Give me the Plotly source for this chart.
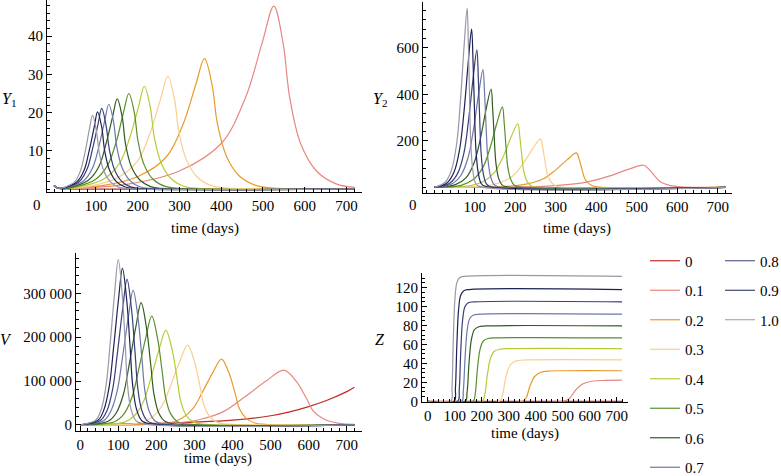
import plotly.graph_objects as go

LEVELS = ["0", "0.1", "0.2", "0.3", "0.4", "0.5", "0.6", "0.7", "0.8", "0.9", "1.0"]
COLORS = ["#c22b26", "#e8877e", "#e99a2c", "#f8cf8f", "#b5cc35", "#5a8f2e",
          "#2f5c20", "#6b78a8", "#393e76", "#1e2255", "#9a98a6"]

# ---- Y1 ----
Y1_T = [
    [0, 8, 30, 200, 400, 600, 720],
    [0, 8, 30, 180, 300, 400, 458, 498, 526, 548, 564, 590, 628, 675, 720],
    [0, 8, 30, 119, 202, 269, 309, 339, 360, 378, 391, 413, 444, 483, 525, 720],
    [0, 8, 30, 87, 151, 200, 230, 255, 272, 288, 299, 318, 345, 379, 416, 720],
    [0, 8, 30, 67, 119, 156, 181, 202, 216, 230, 240, 257, 281, 311, 344, 720],
    [0, 8, 30, 55, 98, 128, 149, 166, 179, 192, 201, 216, 238, 266, 296, 720],
    [0, 8, 30, 46, 82, 107, 124, 140, 151, 163, 171, 185, 206, 231, 258, 720],
    [0, 8, 25, 39, 71, 92, 107, 121, 131, 142, 150, 163, 182, 205, 231, 720],
    [0, 8, 20, 33, 61, 79, 92, 105, 114, 124, 132, 144, 161.5, 183, 207, 720],
    [0, 8, 18, 30, 55, 72, 84, 96, 104, 114, 121, 132.5, 149, 170, 193, 720],
    [0, 8, 16, 26, 49, 63, 74, 84, 92, 101, 108, 119, 135, 154, 176, 720],
]
Y1_V = [
    [1.0, 0.3, 0.1, 0.05, 0.05, 0.05, 0.05],
    [1.0, 0.35, 0.25, 1.43, 4.78, 11.95, 23.9, 38.2, 47.8, 38.2, 23.9, 11.95, 4.78, 1.43, 0.5],
    [1.0, 0.35, 0.25, 1.02, 3.41, 8.5, 17.05, 27.3, 34.1, 27.3, 17.05, 8.5, 3.41, 1.02, 0.34, 0.2],
    [1.0, 0.35, 0.25, 0.89, 2.95, 7.4, 14.75, 23.6, 29.5, 23.6, 14.75, 7.4, 2.95, 0.89, 0.3, 0.15],
    [1.0, 0.35, 0.25, 0.81, 2.69, 6.7, 13.45, 21.5, 26.9, 21.5, 13.45, 6.7, 2.69, 0.81, 0.27, 0.12],
    [1.0, 0.35, 0.25, 0.75, 2.5, 6.25, 12.5, 20.0, 25.0, 20.0, 12.5, 6.25, 2.5, 0.75, 0.25, 0.1],
    [1.0, 0.35, 0.25, 0.71, 2.36, 5.9, 11.8, 18.9, 23.6, 18.9, 11.8, 5.9, 2.36, 0.71, 0.24, 0.1],
    [1.0, 0.35, 0.25, 0.67, 2.22, 5.55, 11.1, 17.8, 22.2, 17.8, 11.1, 5.55, 2.22, 0.67, 0.22, 0.1],
    [1.0, 0.35, 0.27, 0.63, 2.11, 5.3, 10.55, 16.9, 21.1, 16.9, 10.55, 5.3, 2.11, 0.63, 0.21, 0.1],
    [1.0, 0.35, 0.3, 0.61, 2.02, 5.05, 10.1, 16.2, 20.2, 16.2, 10.1, 5.05, 2.02, 0.61, 0.2, 0.1],
    [1.0, 0.35, 0.3, 0.58, 1.93, 4.8, 9.65, 15.4, 19.3, 15.4, 9.65, 4.8, 1.93, 0.58, 0.19, 0.1],
]

# ---- Y2 ----
Y2_T = [
    [0, 200, 400, 600, 720],
    [0, 218, 306, 376, 429, 477, 517, 531, 545, 559, 581, 609, 643, 720],
    [0, 174, 226, 268, 299, 327.6, 351, 358, 365, 372, 383, 397, 414, 720],
    [0, 119, 161, 195, 220, 243, 262, 268, 274, 280, 289.6, 301.6, 316, 720],
    [0, 87, 122, 150, 171, 190, 206, 211, 216, 221, 229, 239, 251, 720],
    [0, 66, 96, 120, 138, 154.5, 168, 172.5, 177, 181.5, 188.7, 197.7, 208.5, 720],
    [0, 52, 78, 98, 114, 128, 140, 144, 148, 152, 158.4, 166.4, 176, 720],
    [0, 42, 65, 83, 97, 109.6, 120, 124, 128, 132, 138.4, 146.4, 156, 720],
    [0, 37, 57, 73, 85, 96, 105, 108.5, 112, 115.5, 121, 128, 136.5, 720],
    [0, 31, 49, 63, 74, 84, 92, 95.5, 99, 102.5, 108, 115, 123.5, 720],
    [0, 26.6, 42.6, 55.4, 65, 73.8, 81, 84, 87, 90, 94.8, 100.8, 108, 720],
]
Y2_V = [
    [1, 0.5, 0.5, 0.5, 0.5],
    [2, 2.9, 9.6, 24, 48, 77, 96, 77, 48, 24, 9.6, 2.9, 1, 1],
    [2, 4.5, 15, 37, 75, 119, 149, 119, 75, 37, 15, 4.5, 1.5, 1],
    [2, 6, 21, 52, 105, 167, 209, 167, 105, 52, 21, 6, 2.1, 1],
    [2, 8, 27, 69, 137, 219, 274, 219, 137, 69, 27, 8, 2.7, 1],
    [2, 10, 35, 87, 173, 277, 346, 277, 173, 87, 35, 10, 3.5, 1],
    [2, 13, 42, 106, 212, 338, 423, 338, 212, 106, 42, 13, 4.2, 1],
    [2, 15, 51, 127, 253, 405, 506, 405, 253, 127, 51, 15, 5, 1],
    [2, 18, 59, 148, 296, 473, 591, 473, 296, 148, 59, 18, 5.9, 1],
    [2, 20, 68, 170, 340, 544, 680, 544, 340, 170, 68, 20, 6.8, 1],
    [2, 23, 77, 192, 385, 616, 770, 616, 385, 192, 77, 23, 7.7, 1],
]

# ---- V ----
V_T = [
    [0, 100, 200, 300, 400, 500, 550, 600, 650, 700, 720],
    [0, 241, 314.5, 377.5, 430, 488, 535, 567, 593, 613, 642, 680, 720],
    [0, 231, 266, 296, 321, 348.5, 371, 390, 406, 418, 436, 458.5, 486, 720],
    [0, 159, 190, 216, 238, 262, 282, 299.6, 314, 325, 341, 362, 388, 720],
    [0, 116, 143, 166.5, 186, 207.5, 225, 241, 254, 264, 278.6, 297.5, 321, 720],
    [0, 90, 114.5, 135.5, 153, 172, 188, 203, 215, 224.5, 238, 255.5, 277, 720],
    [0, 73, 95, 113.5, 129, 146, 160, 173.75, 185, 193.75, 206, 222.5, 243, 720],
    [0, 60.6, 80, 97, 111, 126.4, 139, 151.6, 162, 170, 181.5, 196.5, 215, 720],
    [0, 53, 70.5, 85.5, 98, 111.75, 123, 134.5, 144, 151.4, 161.9, 175.5, 192, 720],
    [0, 46.6, 62.7, 76.5, 88, 100.6, 111, 122, 131, 138, 148, 161, 177, 720],
    [0, 41, 56, 68.5, 79, 90.5, 100, 110, 118, 124, 133, 145, 160, 720],
]
V_V = [
    [1000, 2000, 4000, 6500, 11000, 21000, 30000, 42000, 57000, 76000, 86000],
    [500, 3750, 12500, 31000, 62500, 100000, 125000, 100000, 62500, 31000, 12500, 3750, 1500],
    [500, 4500, 15000, 37500, 75000, 120000, 150000, 120000, 75000, 37500, 15000, 4500, 1500, 300],
    [500, 5500, 18200, 45500, 91000, 146000, 182000, 146000, 91000, 45500, 18200, 5500, 1800, 300],
    [500, 6500, 21600, 54000, 108000, 173000, 216000, 173000, 108000, 54000, 21600, 6500, 2200, 300],
    [500, 7400, 24800, 62000, 124000, 198000, 248000, 198000, 124000, 62000, 24800, 7400, 2500, 300],
    [500, 8400, 28000, 70000, 139500, 223000, 279000, 223000, 139500, 70000, 28000, 8400, 2800, 300],
    [500, 9200, 30700, 77000, 153500, 246000, 307000, 246000, 153500, 77000, 30700, 9200, 3000, 300],
    [500, 10000, 33000, 83000, 166000, 266000, 332000, 266000, 166000, 83000, 33000, 10000, 3300, 300],
    [500, 10700, 35700, 89000, 178500, 286000, 357000, 286000, 178500, 89000, 35700, 10700, 3600, 300],
    [500, 11300, 37700, 94000, 188500, 302000, 377000, 302000, 188500, 94000, 37700, 11300, 3800, 300],
]

# ---- Z ----
Z_T = [
    [0, 720],
    [0, 501, 524, 546, 574, 608, 658, 720],
    [0, 350, 365, 379, 397, 419, 451, 505, 720],
    [0, 265, 276, 287, 301, 318, 343, 385, 720],
    [0, 202, 211, 221, 233, 247, 269, 305, 720],
    [0, 168, 176, 184, 194, 206, 224, 254, 720],
    [0, 139, 146, 153, 162, 173, 189, 216, 720],
    [0, 126, 132, 138.5, 146.5, 156, 170.5, 194.5, 720],
    [0, 111, 117, 122.5, 129.5, 138, 150.5, 171.5, 720],
    [0, 97.6, 102.8, 108, 114.5, 122.3, 134, 153.5, 720],
    [0, 85.4, 90.2, 95, 101, 108.2, 119, 137, 720],
]
Z_V = [
    [0, 0],
    [0, 0, 2.7, 11.15, 18.3, 21.2, 22.1, 22.3],
    [0, 0, 3.9, 16.2, 26.5, 30.7, 32, 32.3, 32.3],
    [0, 0, 5.3, 21.9, 35.9, 41.6, 43.4, 43.8, 43.8],
    [0, 0, 6.7, 27.9, 45.7, 52.9, 55.1, 55.7, 55.7],
    [0, 0, 8, 33.5, 54.9, 63.7, 66.3, 67, 67],
    [0, 0, 9.6, 39.8, 65.3, 75.6, 78.8, 79.6, 79.6],
    [0, 0, 11, 46, 75.4, 87.4, 91.1, 92, 92],
    [0, 0, 12.6, 52.5, 86.1, 99.8, 104, 105, 105],
    [0, 0, 14.2, 59, 96.8, 112, 116.8, 118, 118],
    [0, 0, 15.8, 66, 108, 125.4, 130.7, 132, 132],
]

X_TICKS = [0, 100, 200, 300, 400, 500, 600, 700]
Y1_TICKS = [10, 20, 30, 40]
Y2_TICKS = [200, 400, 600]
V_TICKS = [0, 100000, 200000, 300000]
V_TICKTEXT = ["0", "100 000", "200 000", "300 000"]
Z_TICKS = [0, 20, 40, 60, 80, 100, 120]

W, H = 781, 476
FONT = "Liberation Serif, Times New Roman, serif"

def px(x):
    return x / W

def py(y):
    return 1 - y / H

fig = go.Figure()

panels = [
    ("x", "y", Y1_T, Y1_V),
    ("x2", "y2", Y2_T, Y2_V),
    ("x3", "y3", V_T, V_V),
    ("x4", "y4", Z_T, Z_V),
]
for pi, (xa, ya, TT, VV) in enumerate(panels):
    for i, lev in enumerate(LEVELS):
        fig.add_trace(go.Scatter(
            x=TT[i], y=VV[i], mode="lines", xaxis=xa, yaxis=ya,
            line=dict(color=COLORS[i], width=1.2, shape="spline", smoothing=1.0),
            name=lev, legendgroup=lev,
            legend="legend" if i < 8 else "legend2",
            showlegend=(pi == 3), hoverinfo="skip",
        ))

tickfont = dict(family=FONT, size=15, color="black")

def xaxis_cfg(domain, rng, vals, anchor):
    return dict(domain=domain, range=rng, anchor=anchor, showgrid=False, zeroline=False,
                showline=True, linecolor="black", linewidth=1,
                ticks="inside", ticklen=5, tickcolor="black", tickwidth=1,
                tickvals=vals, ticktext=[str(v) for v in vals], tickfont=tickfont,
                minor=dict(ticks="inside", ticklen=3, dtick=20, tick0=0,
                           tickcolor="black", showgrid=False))

def yaxis_cfg(domain, rng, vals, texts, mdt, anchor):
    return dict(domain=domain, range=rng, anchor=anchor, showgrid=False, zeroline=False,
                showline=True, linecolor="black", linewidth=1,
                ticks="inside", ticklen=5, tickcolor="black", tickwidth=1,
                tickvals=vals, ticktext=texts, tickfont=tickfont,
                minor=dict(ticks="inside", ticklen=3, dtick=mdt, tick0=0,
                           tickcolor="black", showgrid=False))

fig.update_layout(
    width=W, height=H, margin=dict(l=0, r=0, t=0, b=0, autoexpand=False),
    paper_bgcolor="white", plot_bgcolor="white",
    font=dict(family=FONT, size=15, color="black"),
    xaxis=xaxis_cfg([px(47), px(362)], [-17, 737], X_TICKS[1:], "y"),
    yaxis=yaxis_cfg([py(192), 1.0], [-0.7, 49.4], Y1_TICKS, [str(v) for v in Y1_TICKS], 2, "x"),
    xaxis2=xaxis_cfg([px(423), px(732)], [-28, 735], X_TICKS[1:], "y2"),
    yaxis2=yaxis_cfg([py(193), py(2)], [-23, 796], Y2_TICKS, [str(v) for v in Y2_TICKS], 40, "x2"),
    xaxis3=xaxis_cfg([px(76), px(362)], [-11, 740], X_TICKS, "y3"),
    yaxis3=yaxis_cfg([py(431), py(253)], [-13700, 392000], V_TICKS, V_TICKTEXT, 20000, "x3"),
    xaxis4=xaxis_cfg([px(422), px(628)], [-21, 742], X_TICKS, "y4"),
    yaxis4=yaxis_cfg([py(402), py(273)], [-0.7, 135.5], Z_TICKS, [str(v) for v in Z_TICKS], 5, "x4"),
    legend=dict(x=px(645), y=py(244.5), xanchor="left", yanchor="top",
                tracegroupgap=7, font=dict(family=FONT, size=15, color="black"),
                bgcolor="rgba(0,0,0,0)", traceorder="grouped"),
    legend2=dict(x=px(720), y=py(244.5), xanchor="left", yanchor="top",
                 tracegroupgap=7, font=dict(family=FONT, size=15, color="black"),
                 bgcolor="rgba(0,0,0,0)", traceorder="grouped"),
)

ann = [
    ("0", 37, 205, 15),
    ("0", 413, 205, 15),
    ("<i>Y</i><sub>1</sub>", 9, 99, 16),
    ("<i>Y</i><sub>2</sub>", 380, 99, 16),
    ("<i>V</i>", 6, 339, 16),
    ("<i>Z</i>", 380, 339, 16),
    ("time (days)", 205, 228, 15),
    ("time (days)", 577, 228, 15),
    ("time (days)", 218, 458, 15),
    ("time (days)", 525, 433, 15),
]
for text, x, y, size in ann:
    fig.add_annotation(text=text, x=px(x), y=py(y), xref="paper", yref="paper",
                       xanchor="center", yanchor="middle", showarrow=False,
                       font=dict(family=FONT, size=size, color="black"))

fig.write_html("out.html", config={"displayModeBar": False},
               post_script="document.body.style.margin='0';document.body.style.padding='0';")
